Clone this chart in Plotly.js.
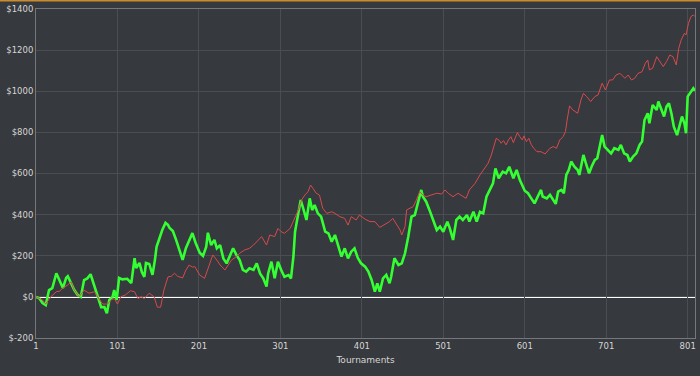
<!DOCTYPE html>
<html>
<head>
<meta charset="utf-8">
<script src="https://cdn.plot.ly/plotly-3.0.1.min.js"></script>
<style>
html,body{margin:0;padding:0;background:#36393d;}
#chart{width:700px;height:376px;}
</style>
</head>
<body>
<div id="chart"></div>
<script>
// Tournament numbers and cumulative winnings ($)
const greenT = [1,5,9,13,17,21,26,30,34,38,40,44,48,52,56,60,64,68,73,77,81,85,88,91,95,97,100,103,107,113,118,122,124,128,131,134,136,140,144,147,149,153,156,160,163,165,169,173,177,181,185,189,193,197,202,206,210,212,216,220,223,227,231,235,239,243,247,251,255,259,263,268,272,276,280,284,286,290,294,298,302,306,311,314,317,319,323,326,329,333,337,340,343,347,351,356,360,364,368,372,376,380,384,388,392,396,400,405,409,413,417,420,423,427,431,435,437,441,446,450,454,458,462,466,469,471,474,476,480,484,488,493,497,501,506,509,513,517,521,525,530,533,538,542,546,550,554,558,562,565,569,574,578,582,587,591,595,601,605,609,613,617,621,623,628,632,636,639,642,646,649,652,655,658,662,666,668,673,676,680,683,687,690,693,696,699,703,707,711,716,719,723,727,730,734,738,742,745,748,752,754,758,763,765,769,772,775,778,781,784,788,791,794,797,799,801,805,808,810];
const greenV = [0,-7,-30,-40,33,42,115,82,43,92,100,67,33,10,0,82,90,110,48,-5,-50,-50,-80,-15,0,33,-15,92,85,88,67,188,140,165,120,97,165,160,107,180,243,290,325,360,350,335,320,277,228,180,237,277,310,262,215,199,244,312,252,277,236,252,187,163,196,236,204,179,131,123,139,131,163,114,90,50,114,171,90,171,131,98,106,90,196,317,406,471,431,374,479,422,447,406,390,317,309,268,301,252,196,236,187,220,236,190,163,147,123,82,25,66,25,90,107,66,98,188,155,163,212,293,390,398,439,471,520,487,463,423,382,325,342,317,366,333,277,374,390,374,398,366,414,366,414,406,487,520,552,625,577,609,601,633,577,617,568,516,504,479,455,488,520,488,479,496,471,452,512,520,504,593,617,658,633,617,593,690,650,601,633,666,674,731,787,731,715,698,723,715,739,698,690,658,682,698,739,755,860,893,844,933,909,950,909,877,925,941,893,828,787,828,877,844,796,974,998,1014,1003];

const redT = [1,9,13,19,26,30,34,40,44,48,54,60,66,73,79,83,89,93,97,101,105,111,117,122,126,130,134,140,146,150,154,158,163,167,171,175,181,185,189,193,196,202,208,212,218,223,227,233,237,241,247,251,257,263,268,272,278,284,288,294,298,302,306,313,319,323,327,331,335,338,341,345,349,353,358,364,368,374,380,384,388,394,398,405,411,417,423,429,435,439,443,448,450,454,456,460,464,468,472,476,480,486,493,499,503,507,513,519,525,529,533,540,546,552,556,560,564,566,570,572,575,578,581,584,587,590,592,595,598,600,603,606,609,612,616,621,626,632,636,640,644,648,651,653,656,660,666,670,673,677,682,687,691,696,700,705,709,713,718,724,728,732,736,740,745,749,752,754,758,763,767,771,775,779,783,787,790,793,797,799,802,805,808,810];
const redV = [0,-15,-35,0,25,28,43,58,73,33,0,33,18,25,-15,-35,-35,-15,-8,-35,0,10,30,25,-8,0,-8,18,0,-50,-50,33,97,100,115,100,92,130,155,145,147,106,90,139,204,179,155,131,155,179,196,212,228,236,252,268,293,252,301,293,333,317,309,333,382,422,471,495,512,544,528,504,495,431,406,414,406,390,382,349,390,374,398,378,366,366,338,350,366,382,358,325,301,342,423,431,439,471,512,495,487,495,504,500,520,504,487,504,487,479,520,552,593,629,650,690,740,771,760,747,760,739,763,779,750,779,799,779,763,783,755,771,740,723,706,706,695,723,731,723,763,779,804,860,929,909,893,958,990,974,950,974,982,1039,1006,1055,1055,1079,1087,1063,1079,1055,1063,1087,1095,1136,1152,1104,1112,1168,1144,1120,1144,1176,1168,1128,1209,1249,1282,1274,1330,1363,1371,1363];

const xTicks = [1,101,201,301,401,501,601,701,801];
const yTicks = [-200,0,200,400,600,800,1000,1200,1400];
const yTickText = ["$-200","$0","$200","$400","$600","$800","$1000","$1200","$1400"];
const xTitle = "Tournaments";

const traces = [
  {x: greenT, y: greenV, type: "scatter", mode: "lines", line: {color: "#33ff33", width: 2.6}, hoverinfo: "skip"},
  {x: redT, y: redV, type: "scatter", mode: "lines", line: {color: "#d84a4c", width: 1}, hoverinfo: "skip"}
];

const gridC = "#4a4e52";
const frameC = "#74777b";
const layout = {
  width: 700, height: 376,
  margin: {l: 36, r: 5, t: 9, b: 38, pad: 0},
  paper_bgcolor: "#36393d",
  plot_bgcolor: "#36393d",
  showlegend: false,
  font: {family: "DejaVu Sans, Verdana, sans-serif", size: 9, color: "#d6d6d6"},
  xaxis: {
    range: [1, 810], tickvals: xTicks, ticktext: xTicks.map(String),
    showgrid: true, gridcolor: gridC, gridwidth: 1,
    zeroline: false, showline: true, linecolor: frameC, linewidth: 1, mirror: true,
    ticks: "", ticklen: 0,
    tickfont: {family: "DejaVu Sans, Verdana, sans-serif", size: 8.5, color: "#d6d6d6"},
    title: {text: xTitle, font: {family: "DejaVu Sans, Verdana, sans-serif", size: 9, color: "#d6d6d6"}, standoff: 6}
  },
  yaxis: {
    range: [-200, 1400], tickvals: yTicks, ticktext: yTickText,
    showgrid: true, gridcolor: gridC, gridwidth: 1,
    zeroline: false, showline: true, linecolor: frameC, linewidth: 1, mirror: true,
    ticks: "", ticklen: 0,
    tickfont: {family: "DejaVu Sans, Verdana, sans-serif", size: 8.5, color: "#d6d6d6"}
  },
  shapes: [
    {type: "line", xref: "paper", yref: "y", x0: 0, x1: 1, y0: 0, y1: 0, line: {color: "#ffffff", width: 2}, layer: "below"},
    {type: "rect", xref: "paper", yref: "paper", x0: -36/659, x1: 1 + 5/659, y0: 1 + 7.5/329, y1: 1 + 9.5/329, fillcolor: "#c98b2b", line: {width: 0}}
  ]
};

Plotly.newPlot("chart", traces, layout, {staticPlot: true, displayModeBar: false});
</script>
</body>
</html>
